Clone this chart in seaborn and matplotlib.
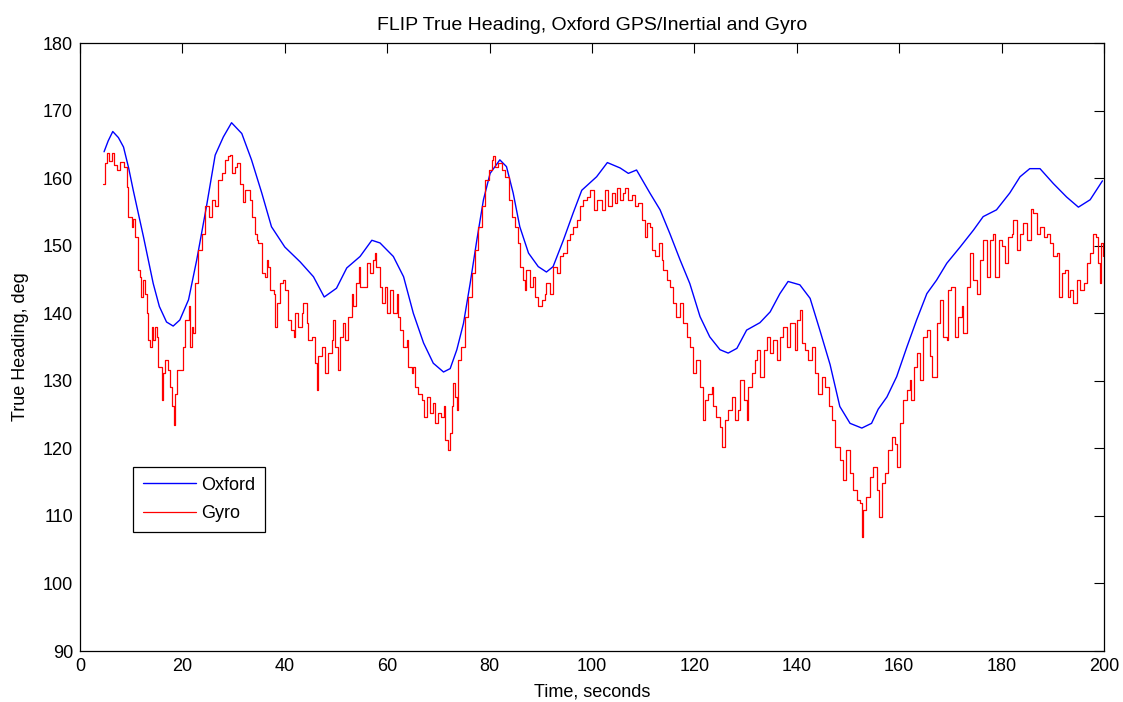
import matplotlib
matplotlib.use("Agg")
import matplotlib.pyplot as plt
import seaborn as sns
import pandas as pd

# ---- data ----
oxford_t = [4.7, 5.5, 6.4, 7.5, 8.5, 9.5, 10.4, 12.4, 14.3, 15.5, 16.9, 18.2, 19.5, 21.2, 22.8, 24.7,
            26.4, 28.0, 29.6, 31.6, 33.5, 35.5, 37.4, 40.0, 43.0, 45.6, 47.7, 50.1, 52.1, 54.7, 57.0,
            58.6, 61.2, 63.2, 65.1, 67.1, 69.0, 71.0, 72.3, 73.6, 74.9, 76.2, 77.5, 78.8, 80.1, 82.0,
            83.3, 84.6, 85.9, 87.6, 89.5, 91.1, 92.4, 94.4, 96.3, 98.0, 100.9, 103.0, 105.5, 107.1,
            108.7, 111.3, 113.3, 115.2, 117.2, 119.1, 121.1, 123.0, 125.0, 126.6, 128.3, 130.2, 132.8,
            134.8, 136.7, 138.3, 140.6, 142.6, 144.5, 146.5, 148.4, 150.4, 152.7, 154.6, 155.9, 157.6,
            159.5, 161.5, 163.4, 165.4, 167.3, 169.3, 171.9, 174.5, 176.4, 179.0, 181.6, 183.6, 185.5,
            187.5, 190.1, 192.7, 195.0, 197.3, 199.7]
oxford_v = [163.9, 165.5, 166.9, 166.0, 164.6, 161.5, 158.2, 151.3, 144.4, 141.0, 138.7, 138.1, 139.0,
            142.0, 147.9, 155.8, 163.4, 166.1, 168.2, 166.6, 162.7, 157.8, 152.8, 149.8, 147.6, 145.4,
            142.4, 143.7, 146.7, 148.4, 150.8, 150.4, 148.4, 145.4, 140.0, 135.6, 132.6, 131.3, 131.8,
            134.6, 138.5, 144.4, 150.8, 156.8, 160.7, 162.7, 161.7, 157.8, 152.8, 148.9, 146.9, 146.1,
            146.9, 150.8, 154.8, 158.2, 160.2, 162.3, 161.5, 160.7, 161.2, 157.8, 155.3, 151.8, 147.9,
            144.4, 139.5, 136.5, 134.6, 134.1, 134.8, 137.5, 138.6, 140.2, 142.9, 144.7, 144.2, 142.2,
            137.5, 132.4, 126.2, 123.7, 123.0, 123.7, 125.8, 127.6, 130.6, 135.0, 139.0, 142.9, 144.9,
            147.4, 149.8, 152.3, 154.3, 155.3, 157.8, 160.2, 161.4, 161.4, 159.2, 157.2, 155.7, 156.8,
            159.6]

gyro_t = [4.55, 4.9, 5.2, 5.7, 6.3, 6.6, 7.2, 7.8, 8.5, 9.1, 9.4, 10.1, 10.4, 10.7, 11.4, 11.7, 12.0,
          12.4, 12.7, 13.0, 13.3, 13.7, 14.0, 14.3, 14.6, 15.0, 15.3, 16.0, 16.3, 16.6, 17.2, 17.6,
          17.9, 18.4, 18.6, 18.9, 19.5, 20.2, 20.5, 21.2, 21.5, 21.8, 22.1, 22.5, 23.1, 23.8, 24.4,
          25.1, 25.7, 26.4, 27.0, 27.7, 28.3, 29.0, 29.3, 29.6, 30.3, 30.6, 31.3, 31.9, 32.2, 33.2,
          33.5, 34.2, 34.5, 34.8, 35.5, 36.1, 36.5, 36.8, 37.1, 37.8, 38.1, 38.4, 39.1, 39.7, 40.0,
          40.7, 41.3, 41.7, 42.0, 42.6, 43.3, 43.6, 44.3, 44.6, 45.3, 45.9, 46.2, 46.5, 47.2, 47.9,
          48.5, 49.2, 49.5, 49.8, 50.4, 50.8, 51.4, 51.8, 52.4, 53.1, 53.4, 54.0, 54.4, 54.7, 55.7,
          56.0, 56.6, 57.3, 57.6, 57.9, 58.6, 58.9, 59.6, 59.9, 60.5, 61.2, 61.9, 62.2, 62.5, 63.1,
          63.8, 64.1, 64.8, 65.1, 65.4, 66.1, 66.7, 67.1, 67.7, 68.4, 69.0, 69.3, 70.0, 70.6, 71.0,
          71.3, 71.9, 72.3, 72.6, 72.9, 73.2, 73.6, 73.9, 74.5, 75.2, 75.8, 76.5, 77.1, 77.8, 78.5,
          79.1, 79.8, 80.4, 80.7, 81.1, 81.7, 82.4, 83.0, 83.7, 84.3, 85.0, 85.6, 85.9, 86.6, 86.9,
          87.2, 87.9, 88.5, 88.9, 89.5, 90.2, 90.8, 91.1, 91.8, 92.4, 93.1, 93.8, 94.4, 95.1, 95.7,
          96.3, 97.0, 97.7, 98.3, 99.0, 99.6, 100.3, 100.9, 101.9, 102.5, 103.2, 103.9, 104.5, 104.8,
          105.5, 106.1, 106.4, 107.1, 107.8, 108.4, 109.0, 109.7, 110.4, 110.7, 111.3, 111.7, 112.3,
          113.0, 113.6, 113.9, 114.6, 115.2, 115.9, 116.5, 117.2, 117.8, 118.5, 119.1, 119.8, 120.4,
          121.1, 121.7, 122.1, 122.7, 123.4, 123.7, 124.3, 125.0, 125.3, 126.0, 126.6, 127.3, 127.9,
          128.6, 128.9, 129.6, 130.2, 130.5, 131.2, 131.8, 132.2, 132.8, 133.5, 134.1, 134.8, 135.4,
          136.1, 136.7, 137.4, 138.0, 138.7, 139.6, 140.0, 140.6, 141.0, 141.6, 142.2, 142.9, 143.6,
          144.2, 144.9, 145.5, 146.2, 146.8, 147.5, 148.4, 149.1, 149.7, 150.4, 151.0, 151.7, 152.3,
          152.7, 153.0, 153.6, 154.3, 154.9, 155.6, 156.1, 156.6, 157.2, 157.9, 158.5, 159.2, 159.6,
          160.2, 160.8, 161.5, 162.1, 162.4, 162.8, 163.4, 164.1, 164.7, 165.4, 166.0, 166.5, 167.3,
          168.0, 168.6, 169.3, 169.6, 170.2, 170.9, 171.5, 172.2, 172.5, 173.2, 173.8, 174.5, 175.1,
          175.8, 176.4, 177.1, 177.7, 178.3, 178.7, 179.4, 180.0, 180.7, 181.3, 182.0, 182.3, 183.0,
          183.6, 184.2, 184.9, 185.7, 186.2, 186.9, 187.5, 188.2, 188.8, 189.5, 190.1, 190.8, 191.3,
          191.7, 192.4, 193.0, 193.4, 194.0, 194.7, 195.3, 196.0, 196.6, 197.3, 197.9, 198.4, 198.9,
          199.2, 199.5, 199.8]
gyro_v = [159.2, 162.2, 163.7, 162.5, 163.7, 162.0, 161.2, 162.4, 161.7, 158.7, 154.3, 152.8, 154.0,
          151.3, 146.4, 145.4, 142.4, 144.9, 142.9, 140.0, 136.0, 135.0, 138.0, 136.0, 138.0, 136.5,
          132.1, 127.2, 131.1, 133.1, 131.6, 129.1, 126.2, 123.5, 128.1, 131.6, 131.6, 135.0, 139.0,
          141.0, 135.0, 138.0, 137.1, 144.4, 149.4, 151.8, 155.8, 154.3, 156.8, 155.8, 159.7, 160.7,
          162.7, 163.2, 163.4, 160.7, 161.7, 162.2, 159.2, 156.5, 158.2, 156.8, 154.3, 151.8, 150.8,
          150.4, 145.9, 145.4, 147.9, 146.9, 143.4, 142.9, 138.0, 141.5, 144.4, 144.9, 143.4, 139.0,
          137.5, 136.5, 140.0, 138.0, 140.0, 141.5, 138.5, 136.0, 136.5, 132.6, 128.6, 133.6, 135.0,
          131.1, 134.1, 136.0, 139.0, 135.0, 131.6, 136.5, 138.5, 136.0, 139.5, 142.9, 141.0, 144.4,
          146.9, 143.9, 143.9, 147.4, 145.9, 147.9, 148.9, 146.9, 143.9, 141.5, 143.9, 140.0, 143.4,
          140.0, 142.9, 139.5, 137.5, 135.0, 136.0, 132.1, 131.1, 132.1, 129.1, 128.1, 127.2, 124.7,
          127.6, 125.2, 126.7, 123.7, 125.2, 124.7, 126.2, 121.2, 119.8, 122.2, 126.2, 129.6, 127.6,
          125.7, 133.1, 135.0, 139.5, 142.4, 145.9, 149.4, 152.8, 155.8, 159.7, 161.2, 162.7, 163.2,
          161.7, 162.2, 161.2, 160.2, 156.8, 154.3, 152.8, 150.4, 146.9, 144.9, 143.4, 146.4, 143.9,
          145.4, 142.4, 141.0, 142.0, 142.9, 144.4, 142.9, 146.9, 145.9, 148.4, 148.9, 150.8, 151.8,
          152.8, 153.8, 155.8, 156.8, 157.2, 158.2, 155.3, 156.8, 155.3, 158.2, 155.8, 157.8, 156.3,
          158.5, 156.8, 157.8, 158.5, 156.8, 157.5, 155.8, 156.3, 153.8, 151.3, 153.3, 152.8, 149.4,
          148.4, 150.4, 147.9, 146.4, 144.9, 143.9, 141.5, 139.5, 141.5, 138.5, 136.5, 135.0, 131.1,
          133.1, 129.1, 124.2, 127.2, 128.1, 129.1, 126.2, 124.7, 123.2, 120.2, 124.2, 125.7, 127.6,
          124.2, 125.7, 130.1, 127.2, 124.2, 129.1, 131.1, 133.1, 134.6, 130.6, 134.6, 136.5, 134.1,
          136.0, 133.1, 136.5, 138.0, 135.0, 138.5, 134.6, 139.0, 140.5, 135.6, 134.6, 133.1, 135.0,
          131.1, 128.1, 130.6, 129.1, 126.2, 124.2, 120.2, 118.3, 115.3, 119.8, 116.3, 113.8, 112.4,
          111.9, 106.9, 110.9, 112.8, 115.8, 117.3, 113.8, 109.9, 114.8, 116.3, 119.8, 121.7, 120.7,
          117.3, 123.7, 127.2, 128.6, 130.1, 127.2, 132.1, 134.1, 130.1, 136.5, 137.5, 133.6, 130.6,
          138.5, 142.0, 136.5, 136.0, 143.4, 143.9, 136.5, 139.5, 141.0, 137.0, 143.9, 148.9, 144.9,
          142.9, 147.9, 150.8, 145.4, 150.8, 151.8, 145.4, 150.8, 149.9, 147.4, 151.3, 151.8, 153.8,
          149.4, 151.8, 153.3, 150.8, 155.5, 154.8, 151.8, 152.8, 151.3, 151.8, 150.4, 148.4, 148.9,
          142.4, 145.9, 146.4, 142.4, 143.4, 141.5, 144.9, 143.4, 144.4, 147.4, 148.9, 151.8, 151.3,
          147.4, 144.4, 150.4, 148.4]

x_ticks = list(range(0, 201, 20))
y_ticks = list(range(90, 181, 10))
title = "FLIP True Heading, Oxford GPS/Inertial and Gyro"
x_label = "Time, seconds"
y_label = "True Heading, deg"

# ---- plotting ----
sns.set_style("white")
plt.rcParams["font.family"] = ["Liberation Sans", "DejaVu Sans"]
plt.rcParams["text.color"] = "black"
plt.rcParams["axes.labelcolor"] = "black"
plt.rcParams["xtick.color"] = "black"
plt.rcParams["ytick.color"] = "black"

fig = plt.figure(figsize=(11.23, 7.02), dpi=100)
ax = fig.add_axes([80 / 1123, 1 - 651 / 702, 1024 / 1123, 608 / 702])

df_ox = pd.DataFrame({"t": oxford_t, "v": oxford_v})
df_gy = pd.DataFrame({"t": gyro_t, "v": gyro_v})

sns.lineplot(data=df_ox, x="t", y="v", ax=ax, color=(0, 0, 1), linewidth=1.0,
             estimator=None, sort=False, label="Oxford")
sns.lineplot(data=df_gy, x="t", y="v", ax=ax, color=(1, 0, 0), linewidth=0.9,
             estimator=None, sort=False, drawstyle="steps-post", label="Gyro")

ax.set_xlim(0, 200)
ax.set_ylim(90, 180)
ax.set_xticks(x_ticks)
ax.set_yticks(y_ticks)
ax.tick_params(direction="in", length=7, width=0.8, top=True, right=True,
               labelsize=13, colors="black", pad=5)
for s in ax.spines.values():
    s.set_visible(True)
    s.set_color("black")
    s.set_linewidth(0.9)

ax.set_xlabel(x_label, fontsize=13, labelpad=6, color="black")
ax.set_ylabel(y_label, fontsize=13, labelpad=10, color="black")
ax.set_title(title, fontsize=14, pad=9, color="black")

leg = ax.legend(loc="upper left", bbox_to_anchor=(0.052, 0.303), borderaxespad=0,
                fontsize=13, frameon=True, fancybox=False, framealpha=1,
                edgecolor="black", handlelength=2.9, handletextpad=0.3,
                borderpad=0.55, labelspacing=0.65)
leg.get_frame().set_linewidth(0.9)
for txt in leg.get_texts():
    txt.set_color("black")

fig.savefig("out.png", dpi=100)
